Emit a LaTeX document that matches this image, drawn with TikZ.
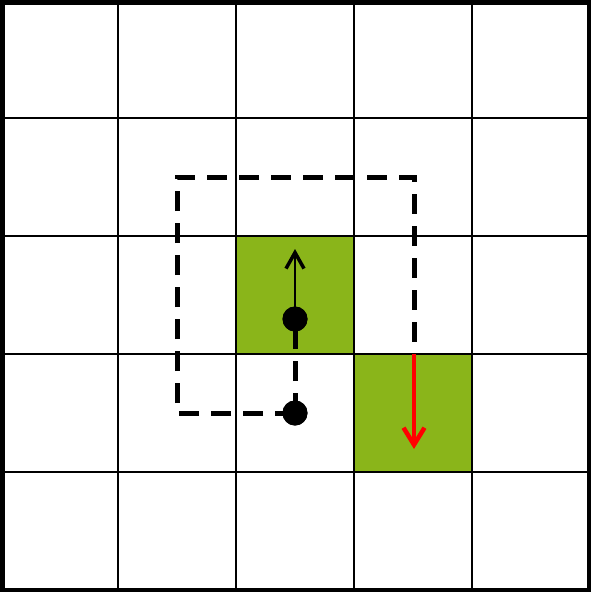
\documentclass[tikz,border=0pt]{standalone}
\usetikzlibrary{arrows.meta}
\definecolor{cellgreen}{RGB}{138,181,26}
\definecolor{arrred}{RGB}{255,0,0}
\begin{document}
\begin{tikzpicture}[x=1pt,y=-1pt,
  gridline/.style={black,line width=1.8pt},
  border/.style={black,line width=4.5pt},
  greencell/.style={fill=cellgreen,draw=none},
  dashpath/.style={black,line width=5pt,dash pattern=on 20pt off 12pt,line join=miter},
  dot/.style={circle,fill=black,inner sep=0pt,minimum size=25pt},
  blackarrow/.style={black,line width=1.5pt,-{Straight Barb[length=16pt,width=18pt,line width=3.5pt]}},
  redarrow/.style={arrred,line width=4.5pt,-{Straight Barb[length=17pt,width=21pt,line width=4.5pt]}}]
\useasboundingbox (0,0) rectangle (591,592);
\fill[white] (0,0) rectangle (591,592);
\fill[greencell] (236,236) rectangle (354,354);
\fill[greencell] (354,354) rectangle (472,472);
\foreach \v in {118,236,354,472} {
  \draw[gridline] (\v,0) -- (\v,592);
  \draw[gridline] (0,\v) -- (591,\v);
}
\draw[border] (2.25,2.25) rectangle (588.75,589.75);
\node[dot] (d1) at (295,319) {};
\node[dot] (d2) at (295,413) {};
\coordinate (c1) at (177,413);
\coordinate (c2) at (177,177);
\coordinate (c3) at (414,177);
\coordinate (c4) at (414,354);
\coordinate (rend) at (414,449);
\coordinate (bend) at (295,249);
\draw[dashpath] (d2.center) -- (c1) -- (c2) -- (c3) -- (c4);
\draw[dashpath] (d2.center) -- (d1.center);
\node[dot] at (d1) {};
\node[dot] at (d2) {};
\draw[blackarrow] (d1.center) -- (bend);
\draw[redarrow] (c4) -- (rend);
\end{tikzpicture}
\end{document}
